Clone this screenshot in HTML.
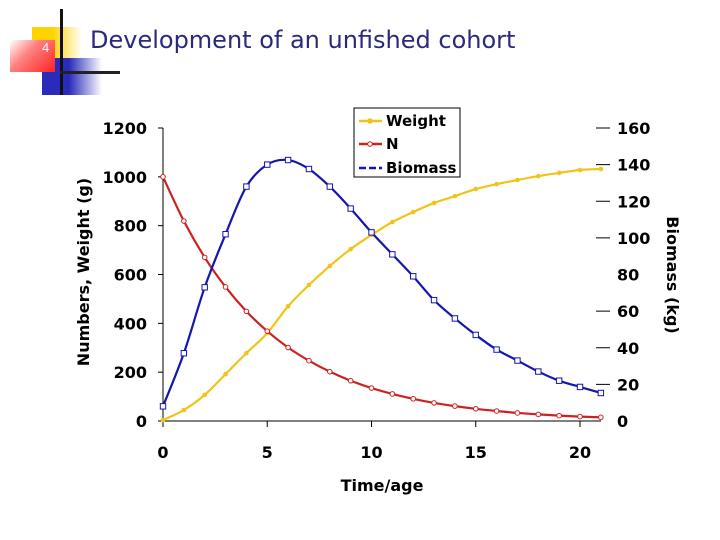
<!DOCTYPE html>
<html><head><meta charset="utf-8"><style>
body{margin:0;background:#fff;}
#wrap{position:relative;width:720px;height:540px;overflow:hidden;font-family:"DejaVu Sans","Liberation Sans",sans-serif;}
</style></head><body>
<div id="wrap">
<div style="position:absolute;left:32px;top:27px;width:50px;height:45px;background:linear-gradient(90deg,#ffd200 40%,#fff 100%);"></div>
<div style="position:absolute;left:42px;top:58px;width:60px;height:37px;background:linear-gradient(90deg,#2b2bbb 45%,#fff 100%);"></div>
<div style="position:absolute;left:10px;top:40px;width:45px;height:32px;background:linear-gradient(135deg,#fff 0%,#ff8080 40%,#f22 100%);"></div>
<div style="position:absolute;left:42px;top:40px;color:#fff;font-size:13px;font-family:'Liberation Sans',sans-serif;">4</div>
<div style="position:absolute;left:60px;top:9px;width:3px;height:86px;background:#111;"></div>
<div style="position:absolute;left:60px;top:71px;width:60px;height:3px;background:#222;"></div>
<div style="position:absolute;left:90px;top:26px;font-size:24px;color:#2a2a7a;font-family:'DejaVu Sans',sans-serif;">Development of an unfished cohort</div>
<svg id="chart" width="720" height="540" style="position:absolute;left:0;top:0"></svg>
</div>
<script>
const ages=[0,1,2,3,4,5,6,7,8,9,10,11,12,13,14,15,16,17,18,19,20,21];
const weightVals=[4,45,107,192,278,360,470,557,635,704,762,815,856,893,921,950,970,987,1003,1016,1028,1032];
const nVals=[1000,819,670,549,449,368,301,247,202,165,135,111,91,74,61,50,41,33,27,22,18,15];
const biomassVals=[8,37,73,102,128,140,142.5,137.6,128,116,103,91,79,66,56,47,39,33,27,22,18.6,15.3];
const xTicks=[0,5,10,15,20];
const yLeftTicks=[0,200,400,600,800,1000,1200];
const yRightTicks=[0,20,40,60,80,100,120,140,160];
const rightDash=[false,true,true,true,false,true,true,true,true];

const svg=document.getElementById('chart');
const NS='http://www.w3.org/2000/svg';
const X=v=>163+v*20.85, YL=v=>421-v*293/1200, YR=v=>421-v*293/160;
function mk(t,a,txt){const e=document.createElementNS(NS,t);for(const k in a)e.setAttribute(k,a[k]);if(txt!==undefined)e.textContent=txt;svg.appendChild(e);return e;}
function smooth(pts){let d='M'+pts[0][0]+','+pts[0][1];for(let i=0;i<pts.length-1;i++){const p0=pts[i-1]||pts[i],p1=pts[i],p2=pts[i+1],p3=pts[i+2]||p2;const c1=[p1[0]+(p2[0]-p0[0])/6,p1[1]+(p2[1]-p0[1])/6],c2=[p2[0]-(p3[0]-p1[0])/6,p2[1]-(p3[1]-p1[1])/6];d+=` C${c1[0]},${c1[1]} ${c2[0]},${c2[1]} ${p2[0]},${p2[1]}`;}return d;}
const F='font-family:"DejaVu Sans",sans-serif;font-weight:bold;font-size:16px;';
let e;
e=mk('line',{x1:163,y1:128,x2:163,y2:421,stroke:'#000'});
e=mk('line',{x1:163,y1:421,x2:601,y2:421,stroke:'#000'});
yLeftTicks.forEach(v=>{e=mk('line',{x1:158,y1:YL(v),x2:163,y2:YL(v),stroke:'#000'});
e=mk('text',{x:147,y:YL(v)+6,'text-anchor':'end',style:F},v);});
xTicks.forEach(v=>{e=mk('line',{x1:X(v),y1:421,x2:X(v),y2:427,stroke:'#000'});
e=mk('text',{x:X(v),y:458,'text-anchor':'middle',style:F},v);});
yRightTicks.forEach((v,i)=>{if(rightDash[i]){e=mk('line',{x1:596,y1:YR(v),x2:610,y2:YR(v),stroke:'#000'});}
e=mk('text',{x:617,y:YR(v)+6,style:F},v);});
e=mk('text',{x:382,y:491,'text-anchor':'middle',style:F},'Time/age');
e=mk('text',{x:0,y:0,'text-anchor':'middle',style:F,transform:'translate(89,272) rotate(-90)'},'Numbers, Weight (g)');
e=mk('text',{x:0,y:0,'text-anchor':'middle',style:F,transform:'translate(667,275) rotate(90)'},'Biomass (kg)');

function series(vals,yf,color,name,marker){
 const pts=ages.map((a,i)=>[X(a),yf(vals[i])]);
 e=mk('path',{d:smooth(pts),fill:'none',stroke:color,'stroke-width':2.2});
 pts.forEach(p=>{
  if(marker==='dot'){e=mk('circle',{cx:p[0],cy:p[1],r:2.3,fill:color});}
  else if(marker==='circle'){e=mk('circle',{cx:p[0],cy:p[1],r:2.3,fill:'#fff',stroke:color,'stroke-width':1});}
  else {e=mk('rect',{x:p[0]-2.7,y:p[1]-2.7,width:5.4,height:5.4,fill:'#fff',stroke:color,'stroke-width':1});}
  });
}
series(weightVals,YL,'#f0c419','weight','dot');
series(nVals,YL,'#cc2222','n','circle');
series(biomassVals,YR,'#1515b0','biomass','square');

e=mk('rect',{x:354,y:108,width:106,height:69,fill:'#fff',stroke:'#000'});
const LF='font-family:"DejaVu Sans",sans-serif;font-weight:bold;font-size:15px;';
[['Weight','#f0c419',121,'dot'],['N','#cc2222',144,'circle'],['Biomass','#1515b0',168,'square']].forEach(l=>{
 e=mk('line',{x1:359,y1:l[2],x2:382,y2:l[2],stroke:l[1],'stroke-width':2.5,'stroke-dasharray':l[3]==='square'?'7,3':'none'});
 if(l[3]!=='square'){e=mk('circle',{cx:370,cy:l[2],r:2.3,fill:l[3]==='dot'?l[1]:'#fff',stroke:l[1]});}
 e=mk('text',{x:386,y:l[2]+5,style:LF},l[0]);
});
</script>
</body></html>
